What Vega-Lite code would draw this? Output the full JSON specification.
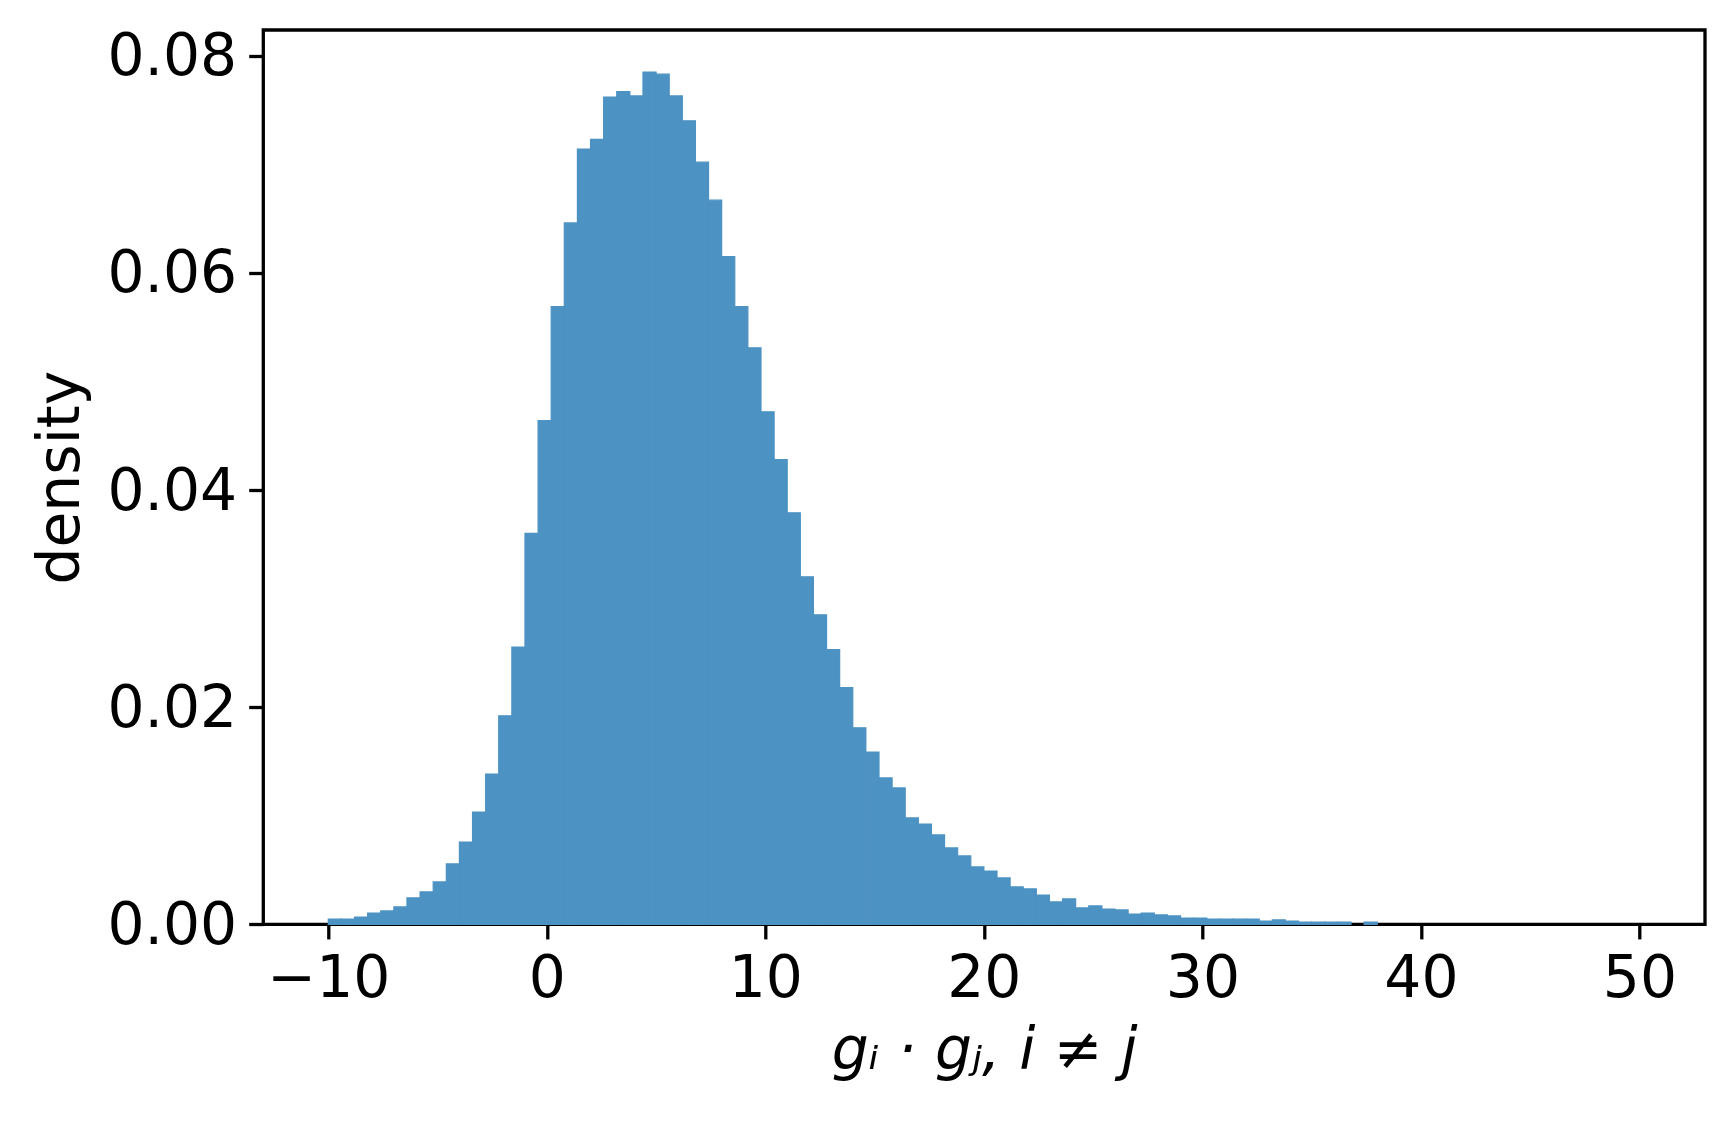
{
  "$schema": "https://vega.github.io/schema/vega-lite/v6.json",
  "width": 1441.7,
  "height": 894.3,
  "autosize": {"type": "none"},
  "padding": {"left": 263.3, "top": 30, "right": 29, "bottom": 198.7},
  "background": "white",
  "config": {
    "view": {"stroke": "black", "strokeWidth": 3.3},
    "axis": {
      "domain": false,
      "grid": false,
      "tickColor": "black",
      "tickWidth": 3.3,
      "tickSize": 14.6,
      "labelFont": "DejaVu Sans",
      "labelFontSize": 58.3,
      "labelColor": "black",
      "labelPadding": 12,
      "titleFont": "DejaVu Sans",
      "titleFontSize": 58.3,
      "titleFontWeight": "normal",
      "titleColor": "black",
      "labelFlush": false,
      "labelOverlap": false
    }
  },
  "data": {
    "values": [
      {"start": -10.0, "end": -9.4, "density": 0.00049},
      {"start": -9.4, "end": -8.8, "density": 0.00049},
      {"start": -8.8, "end": -8.2, "density": 0.00067},
      {"start": -8.2, "end": -7.6, "density": 0.00104},
      {"start": -7.6, "end": -7.0, "density": 0.00123},
      {"start": -7.0, "end": -6.4, "density": 0.0016},
      {"start": -6.4, "end": -5.8, "density": 0.00243},
      {"start": -5.8, "end": -5.2, "density": 0.00298},
      {"start": -5.2, "end": -4.6, "density": 0.0039},
      {"start": -4.6, "end": -4.0, "density": 0.00556},
      {"start": -4.0, "end": -3.4, "density": 0.00758},
      {"start": -3.4, "end": -2.8, "density": 0.01034},
      {"start": -2.8, "end": -2.2, "density": 0.01384},
      {"start": -2.2, "end": -1.6, "density": 0.0192},
      {"start": -1.6, "end": -1.0, "density": 0.02554},
      {"start": -1.0, "end": -0.4, "density": 0.036},
      {"start": -0.4, "end": 0.2, "density": 0.0464},
      {"start": 0.2, "end": 0.8, "density": 0.0569},
      {"start": 0.8, "end": 1.4, "density": 0.0646},
      {"start": 1.4, "end": 2.0, "density": 0.0714},
      {"start": 2.0, "end": 2.6, "density": 0.0723},
      {"start": 2.6, "end": 3.2, "density": 0.0762},
      {"start": 3.2, "end": 3.8, "density": 0.0767},
      {"start": 3.8, "end": 4.4, "density": 0.0763},
      {"start": 4.4, "end": 5.0, "density": 0.0785},
      {"start": 5.0, "end": 5.6, "density": 0.0783},
      {"start": 5.6, "end": 6.2, "density": 0.0763},
      {"start": 6.2, "end": 6.8, "density": 0.074},
      {"start": 6.8, "end": 7.4, "density": 0.0702},
      {"start": 7.4, "end": 8.0, "density": 0.0667},
      {"start": 8.0, "end": 8.6, "density": 0.0615},
      {"start": 8.6, "end": 9.2, "density": 0.0569},
      {"start": 9.2, "end": 9.8, "density": 0.0531},
      {"start": 9.8, "end": 10.4, "density": 0.0472},
      {"start": 10.4, "end": 11.0, "density": 0.0428},
      {"start": 11.0, "end": 11.6, "density": 0.0379},
      {"start": 11.6, "end": 12.2, "density": 0.032},
      {"start": 12.2, "end": 12.8, "density": 0.0285},
      {"start": 12.8, "end": 13.4, "density": 0.0253},
      {"start": 13.4, "end": 14.0, "density": 0.0218},
      {"start": 14.0, "end": 14.6, "density": 0.0181},
      {"start": 14.6, "end": 15.2, "density": 0.01587},
      {"start": 15.2, "end": 15.8, "density": 0.01348},
      {"start": 15.8, "end": 16.4, "density": 0.01256},
      {"start": 16.4, "end": 17.0, "density": 0.0098},
      {"start": 17.0, "end": 17.6, "density": 0.00924},
      {"start": 17.6, "end": 18.2, "density": 0.00823},
      {"start": 18.2, "end": 18.8, "density": 0.00703},
      {"start": 18.8, "end": 19.4, "density": 0.0063},
      {"start": 19.4, "end": 20.0, "density": 0.00528},
      {"start": 20.0, "end": 20.6, "density": 0.00491},
      {"start": 20.6, "end": 21.2, "density": 0.00427},
      {"start": 21.2, "end": 21.8, "density": 0.00344},
      {"start": 21.8, "end": 22.4, "density": 0.00326},
      {"start": 22.4, "end": 23.0, "density": 0.0027},
      {"start": 23.0, "end": 23.6, "density": 0.00206},
      {"start": 23.6, "end": 24.2, "density": 0.00234},
      {"start": 24.2, "end": 24.8, "density": 0.00151},
      {"start": 24.8, "end": 25.4, "density": 0.00169},
      {"start": 25.4, "end": 26.0, "density": 0.00141},
      {"start": 26.0, "end": 26.6, "density": 0.00132},
      {"start": 26.6, "end": 27.2, "density": 0.00095},
      {"start": 27.2, "end": 27.8, "density": 0.00104},
      {"start": 27.8, "end": 28.4, "density": 0.00086},
      {"start": 28.4, "end": 29.0, "density": 0.00077},
      {"start": 29.0, "end": 29.6, "density": 0.00058},
      {"start": 29.6, "end": 30.2, "density": 0.00058},
      {"start": 30.2, "end": 30.8, "density": 0.00049},
      {"start": 30.8, "end": 31.4, "density": 0.00049},
      {"start": 31.4, "end": 32.0, "density": 0.00049},
      {"start": 32.0, "end": 32.6, "density": 0.00049},
      {"start": 32.6, "end": 33.2, "density": 0.0003},
      {"start": 33.2, "end": 33.8, "density": 0.0004},
      {"start": 33.8, "end": 34.4, "density": 0.0003},
      {"start": 34.4, "end": 35.0, "density": 0.0002},
      {"start": 35.0, "end": 35.6, "density": 0.0002},
      {"start": 35.6, "end": 36.2, "density": 0.0002},
      {"start": 36.2, "end": 36.8, "density": 0.0002},
      {"start": 36.8, "end": 37.4, "density": 0.0},
      {"start": 37.4, "end": 38.0, "density": 0.0002},
      {"start": 38.0, "end": 38.6, "density": 0.0},
      {"start": 38.6, "end": 39.2, "density": 0.0},
      {"start": 39.2, "end": 39.8, "density": 0.0},
      {"start": 39.8, "end": 40.4, "density": 0.0},
      {"start": 40.4, "end": 41.0, "density": 0.0},
      {"start": 41.0, "end": 41.6, "density": 0.0},
      {"start": 41.6, "end": 42.2, "density": 0.0},
      {"start": 42.2, "end": 42.8, "density": 0.0},
      {"start": 42.8, "end": 43.4, "density": 0.0},
      {"start": 43.4, "end": 44.0, "density": 0.0},
      {"start": 44.0, "end": 44.6, "density": 0.0},
      {"start": 44.6, "end": 45.2, "density": 0.0},
      {"start": 45.2, "end": 45.8, "density": 0.0},
      {"start": 45.8, "end": 46.4, "density": 0.0},
      {"start": 46.4, "end": 47.0, "density": 0.0},
      {"start": 47.0, "end": 47.6, "density": 0.0},
      {"start": 47.6, "end": 48.2, "density": 0.0},
      {"start": 48.2, "end": 48.8, "density": 0.0},
      {"start": 48.8, "end": 49.4, "density": 0.0},
      {"start": 49.4, "end": 50.0, "density": 0.0}
    ]
  },
  "mark": {"type": "rect", "fill": "#4c92c3", "stroke": "#4c92c3", "strokeWidth": 1.2},
  "encoding": {
    "x": {
      "field": "start",
      "type": "quantitative",
      "scale": {"domain": [-12.975, 53.0], "nice": false, "zero": false},
      "axis": {
        "values": [-10, 0, 10, 20, 30, 40, 50],
        "format": "d",
        "title": "gᵢ · gⱼ, i ≠ j",
        "titleFontStyle": "italic",
        "titlePadding": 14
      }
    },
    "x2": {"field": "end"},
    "y": {
      "field": "density",
      "type": "quantitative",
      "scale": {"domain": [0, 0.08237], "nice": false},
      "axis": {
        "values": [0, 0.02, 0.04, 0.06, 0.08],
        "format": ".2f",
        "title": "density",
        "titlePadding": 16,
        "labelBaseline": "middle",
        "labelOffset": 2
      }
    },
    "y2": {"datum": 0},
    "strokeOpacity": {
      "condition": {"test": "datum.density > 0", "value": 1},
      "value": 0
    }
  }
}
